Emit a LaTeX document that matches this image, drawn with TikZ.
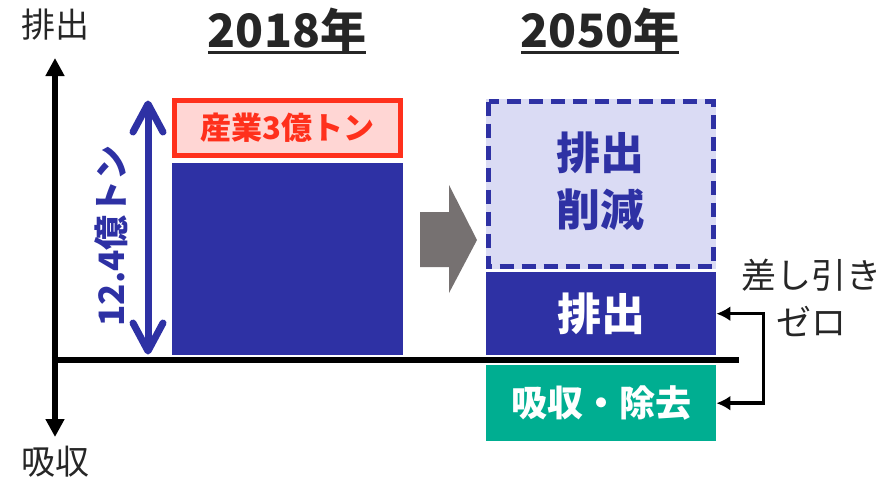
\documentclass[tikz,border=0pt]{standalone}
\usepackage{fontspec}
\usetikzlibrary{arrows.meta}
\newfontfamily\jp{Noto Sans CJK JP}
\definecolor{barblue}{RGB}{46,49,164}
\definecolor{lav}{RGB}{218,219,244}
\definecolor{redline}{RGB}{255,48,28}
\definecolor{pinkfill}{RGB}{255,214,212}
\definecolor{green}{RGB}{0,174,145}
\definecolor{grayarrow}{RGB}{118,113,113}
\definecolor{ink}{RGB}{38,38,38}
\tikzset{
  axislabel/.style={font=\jp\fontsize{34}{40}\selectfont, text=ink, inner sep=0pt},
  titlelabel/.style={font=\jp\bfseries\fontsize{46}{52}\selectfont, text=ink, inner sep=0pt},
  axisline/.style={line width=6.5pt, draw=black},
  barlabel/.style={font=\jp\bfseries\fontsize{44}{57}\selectfont, inner sep=0pt, align=center},
  barbline/.style={draw=barblue, line width=7pt, line cap=round, line join=round},
}
\begin{document}
\begin{tikzpicture}[x=1pt,y=-1pt]
\useasboundingbox (0,0) rectangle (886,483);
% axes
\coordinate (top) at (55,58);
\coordinate (bot) at (55,437);
\coordinate (orig) at (55,360);
\coordinate (xend) at (739,360);
\draw[axisline, -{Triangle[length=18pt,width=18pt]}] (orig) -- (top);
\draw[axisline, -{Triangle[length=18pt,width=18pt]}] (orig) -- (bot);
\draw[axisline] ([xshift=-3.25pt]orig) -- (xend);
\node[axislabel] (lemit) at (55,25) {排出};
\node[axislabel] (labs) at (55,462) {吸収};
% titles
\node[titlelabel, anchor=base] (t1) at (287,47) {2018年};
\draw[ink, line width=3pt] ([yshift=-5pt]t1.base west) -- ([yshift=-5pt]t1.base east);
\node[titlelabel, anchor=base] (t2) at (600,47) {2050年};
\draw[ink, line width=3pt] ([yshift=-5pt]t2.base west) -- ([yshift=-5pt]t2.base east);
% 2018 bars
\fill[pinkfill] (172,98) rectangle (403,158);
\draw[redline, line width=5pt] (174.5,100.5) rectangle (400.5,155.5);
\node[font=\jp\bfseries\fontsize{31}{36}\selectfont, text=redline, inner sep=0pt] (ind) at (287.5,128) {産業3億トン};
\fill[barblue] (172,163) rectangle (403,355);
% double arrow
\coordinate (atop) at (148,104);
\coordinate (abot) at (148,351);
\draw[barbline, line cap=butt] (atop) -- (abot);
\draw[barbline] (atop) ++(-15,28) -- (atop) -- ++(15,28);
\draw[barbline] (abot) ++(-15,-28) -- (abot) -- ++(15,-28);
\node[font=\jp\bfseries\fontsize{35}{40}\selectfont, text=barblue, rotate=90, inner sep=0pt] (total) at (111,236) {12.4億トン};
% gray block arrow
\fill[grayarrow] (420,212) -- (449,212) -- (449,185) -- (477,240) -- (449,293) -- (449,267) -- (420,267) -- cycle;
% 2050 bars
\fill[lav] (486,99) rectangle (716,269);
\draw[barblue, line width=5pt, dash pattern=on 14pt off 8pt] (488.5,101.5) rectangle (713.5,266.5);
\node[barlabel, text=barblue] (cut) at (600,181) {排出\\削減};
\node[fill=barblue, minimum width=230pt, minimum height=83pt, inner sep=0pt, anchor=north west] (emit) at (486,272) {};
\node[barlabel, text=white] at (emit.center) {排出};
\node[fill=green, minimum width=230pt, minimum height=76pt, inner sep=0pt, anchor=north west] (absorb) at (486,365) {};
\node[font=\jp\bfseries\fontsize{36}{40}\selectfont, text=white, inner sep=0pt] at (absorb.center) {吸収・除去};
% net zero bracket
\draw[black, line width=3.5pt, {Latex[length=14pt,width=15pt]}-{Latex[length=14pt,width=15pt]}] (emit.east) -- ++(47,0) |- (absorb.east);
\node[font=\jp\fontsize{35}{47}\selectfont, text=ink, align=center, inner sep=0pt] (net) at (811,298) {差し引き\\ゼロ};
\end{tikzpicture}
\end{document}
